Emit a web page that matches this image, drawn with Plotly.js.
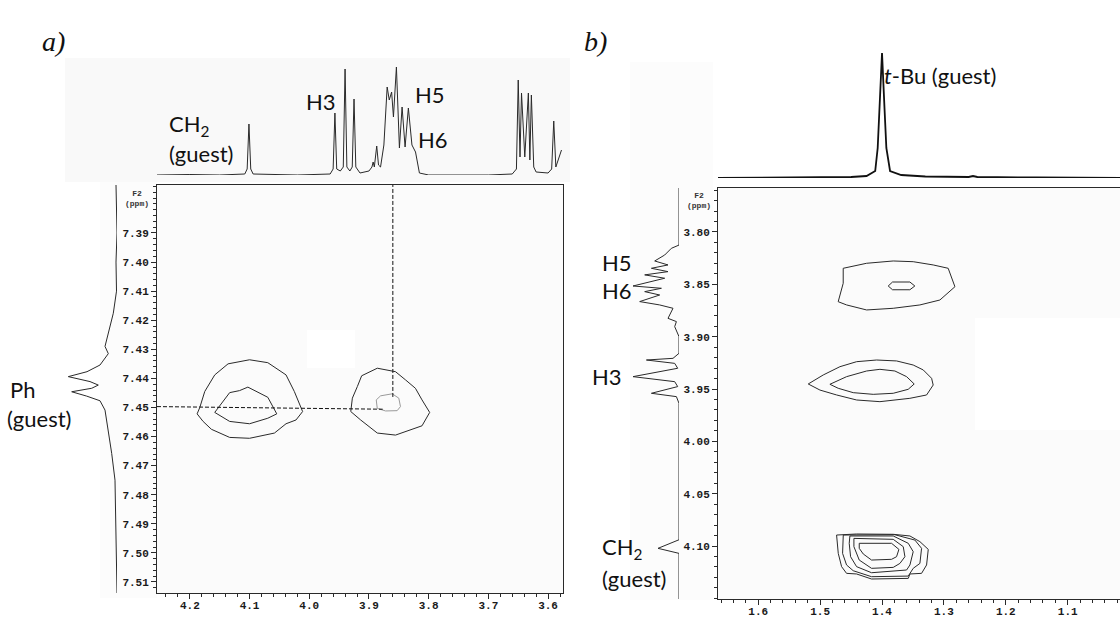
<!DOCTYPE html>
<html><head><meta charset="utf-8">
<script src="https://cdn.plot.ly/plotly-3.0.1.min.js"></script>
<style>html,body{margin:0;padding:0;background:#fff}#chart{width:1120px;height:617px}</style>
</head><body><div id="chart"></div>
<script>
// ---------------- DATA (ppm values) ----------------
// Panel a: 1D projection on top (F1 axis, ppm vs intensity)
const specA_ppm = [4.255,4.20,4.15,4.108,4.104,4.101,4.098,4.094,4.02,3.965,3.960,3.957,3.954,3.948,3.943,3.940,3.937,3.932,3.928,3.925,3.922,3.915,3.900,3.895,3.893,3.891,3.887,3.884,3.8806,3.875,3.8695,3.866,3.862,3.859,3.854,3.849,3.8445,3.8395,3.834,3.828,3.822,3.818,3.8155,3.80,3.70,3.66,3.653,3.650,3.647,3.6445,3.639,3.633,3.6305,3.628,3.624,3.620,3.60,3.594,3.5905,3.587,3.5775];
const specA_int = [0,0.5,0,1,6,51,6,1,0,1,6,62,6,4,8,106,8,4,8,76,8,2,4,8,13,8,29,10,8,30,88,75,83,58,108,27,68,28,67,30,23,8,2,0,0,1,6,95,18,82,18,82,15,80,8,3,2,6,54,8,25];
// Panel a: 1D projection on the left (Ph guest)
const phA_ppm = [7.3735,7.39,7.40,7.41,7.4176,7.4222,7.4267,7.429,7.4315,7.4354,7.4377,7.4394,7.4411,7.4423,7.4434,7.4446,7.4461,7.4477,7.4509,7.4543,7.4589,7.4658,7.475,7.4864,7.50,7.5138];
const phA_int = [1,0,1,0.5,3.7,7,10,12,8.7,17,30,48.7,27,18.7,25.3,45.3,30.3,17,12,10.3,8.7,5.3,2,1.3,0.5,0];
// Panel a: contours (x = F1 ppm, y = F2 ppm)
const contA1o_x = [4.1833,4.175,4.1583,4.136,4.1,4.0694,4.0389,4.025,4.0111,4.0222,4.0389,4.0583,4.1,4.1333,4.1639,4.1778,4.1878,4.1833];
const contA1o_y = [7.45,7.4445,7.4388,7.435,7.4336,7.4346,7.4388,7.4445,7.4514,7.4543,7.4556,7.4588,7.4606,7.4603,7.4575,7.4548,7.4522,7.45];
const contA1i_x = [4.1583,4.1333,4.1167,4.1028,4.0694,4.0544,4.0694,4.1,4.1333,4.1583];
const contA1i_y = [7.4517,7.4449,7.4442,7.4430,7.4465,7.4522,7.4537,7.4556,7.4548,7.4517];
const contA2o_x = [3.9305,3.9278,3.9194,3.9122,3.886,3.8555,3.8389,3.8222,3.8111,3.7983,3.8111,3.8333,3.8555,3.886,3.9,3.9139,3.9305];
const contA2o_y = [7.4514,7.4468,7.4428,7.4391,7.4365,7.4377,7.4405,7.4434,7.4474,7.4517,7.4563,7.458,7.4595,7.4588,7.4566,7.4543,7.4514];
const contA2i_x = [3.8878,3.8805,3.861,3.85,3.8472,3.8528,3.8722,3.8861,3.8878];
const contA2i_y = [7.4474,7.4460,7.4453,7.4468,7.4497,7.4511,7.4512,7.4503,7.4474];
// Panel a: dashed guide lines
const dashAh_x = [4.255,3.877];
const dashAh_y = [7.4497,7.4506];
const dashAv_x = [3.860,3.860];
const dashAv_y = [7.3728,7.4468];
// Panel a ticks
const tickA_x = [4.2,4.1,4.0,3.9,3.8,3.7,3.6];
const tickA_y = [7.39,7.40,7.41,7.42,7.43,7.44,7.45,7.46,7.47,7.48,7.49,7.50,7.51];

// Panel b: 1D projection on top (t-Bu)
const specB_ppm = [1.665,1.55,1.45,1.425,1.411,1.407,1.404,1.400,1.396,1.393,1.387,1.369,1.33,1.26,1.253,1.246,1.15,1.0155];
const specB_int = [0,0.5,1,2,7,30,70,125,70,30,7,3,1.5,1,2,1,0.5,0];
// Panel b: 1D projection on the left
const sideB_ppm = [3.758,3.8125,3.8156,3.822,3.8277,3.8315,3.8347,3.8379,3.841,3.8442,3.8516,3.8538,3.857,3.8602,3.8665,3.8697,3.8729,3.8825,3.8856,3.8904,3.9000,3.9159,3.9207,3.9223,3.9255,3.9302,3.9382,3.943,3.9477,3.9541,3.9573,3.9637,4.094,4.1022,4.107,4.1506];
const sideB_int = [0,0,7.6,14.3,24.3,11,27.6,11,34.3,14.3,46,17.6,34.3,19.3,39.3,19.3,6,11,2.6,4.3,0,0,6,32.6,4.3,1.3,46,4.3,1.3,27.6,2.6,0,0,21,0,0];
// Panel b: contours
const contB1o_x = [1.4627,1.4249,1.3819,1.3496,1.3173,1.2931,1.2822,1.3065,1.3388,1.3819,1.4249,1.4572,1.4708,1.4627,1.4627];
const contB1o_y = [3.8347,3.8299,3.8277,3.8284,3.8315,3.8347,3.8523,3.8650,3.8697,3.8729,3.8745,3.8697,3.8666,3.8490,3.8347];
const contB1i_x = [1.390,1.383,1.355,1.347,1.355,1.383,1.390];
const contB1i_y = [3.8516,3.8478,3.8478,3.8516,3.8552,3.8552,3.8516];
const contB2o_x = [1.5192,1.495,1.468,1.441,1.4087,1.3764,1.3496,1.3334,1.3199,1.3173,1.328,1.355,1.4034,1.441,1.4733,1.5003,1.5192];
const contB2o_y = [3.9452,3.9366,3.9287,3.9239,3.9223,3.9232,3.9271,3.9318,3.9398,3.9462,3.9557,3.9589,3.9621,3.9605,3.9557,3.9510,3.9452];
const contB2i_x = [1.4842,1.4572,1.4249,1.4034,1.3792,1.3603,1.348,1.3577,1.3819,1.4142,1.4465,1.4708,1.4842];
const contB2i_y = [3.9455,3.9382,3.9328,3.9312,3.9328,3.9382,3.9452,3.9503,3.9541,3.9551,3.9535,3.9493,3.9455];
const contB3c1_x = [1.4734,1.4411,1.3819,1.3549,1.3388,1.3253,1.328,1.3361,1.3549,1.3576,1.4169,1.4411,1.4573,1.4653,1.4707,1.4734];
const contB3c1_y = [4.0895,4.0885,4.0888,4.0904,4.0958,4.1032,4.1181,4.1261,4.1267,4.1309,4.1315,4.1267,4.1261,4.1197,4.1070,4.0895];
const contB3c2_x = [1.4626,1.3792,1.3469,1.3361,1.3388,1.3496,1.3576,1.4169,1.4465,1.4573,1.4637,1.4626];
const contB3c2_y = [4.0895,4.0892,4.0943,4.1022,4.1166,4.1213,4.1287,4.1293,4.1236,4.1181,4.1070,4.0895];
const contB3c3_x = [1.4519,1.3819,1.3576,1.3496,1.3549,1.3603,1.4169,1.4411,1.4508,1.453,1.4519];
const contB3c3_y = [4.0904,4.0904,4.0974,4.1054,4.1181,4.1229,4.1255,4.1197,4.1102,4.0974,4.0904];
const contB3c4_x = [1.4454,1.3819,1.3657,1.363,1.3711,1.3819,1.4169,1.4368,1.4454,1.4454];
const contB3c4_y = [4.0927,4.0936,4.1006,4.1102,4.1166,4.1204,4.1213,4.1134,4.1006,4.0927];
const contB3c5_x = [1.4368,1.3846,1.3727,1.3765,1.3846,1.4169,1.4303,1.4368,1.4368];
const contB3c5_y = [4.0974,4.0974,4.1032,4.1102,4.1127,4.1134,4.1076,4.1022,4.0974];
// Panel b ticks
const tickB_x = [1.6,1.5,1.4,1.3,1.2,1.1];
const tickB_y = [3.80,3.85,3.90,3.95,4.00,4.05,4.10];

// ---------------- FIGURE ----------------
const W = 1120, H = 617;
const px = v => v / W, py = v => 1 - v / H;
const INK = '#2a2a2a';

function ln(xa, ya, x, y, extra) {
  return Object.assign({type:'scatter', mode:'lines', x:x, y:y, xaxis:xa, yaxis:ya,
    line:{color:INK, width:1}, hoverinfo:'skip', showlegend:false}, extra || {});
}

const traces = [
  ln('x2','y2', specA_ppm, specA_int),
  ln('x3','y3', phA_int, phA_ppm),
  ln('x','y', contA1o_x, contA1o_y),
  ln('x','y', contA1i_x, contA1i_y),
  ln('x','y', contA2o_x, contA2o_y),
  ln('x','y', contA2i_x, contA2i_y, {line:{color:'#9a9a9a', width:1}}),
  ln('x','y', dashAh_x, dashAh_y, {line:{color:'#111', width:1, dash:'4px,2px'}}),
  ln('x','y', dashAv_x, dashAv_y, {line:{color:'#111', width:1, dash:'4px,2px'}, cliponaxis:false}),
  ln('x5','y5', specB_ppm, specB_int, {line:{color:'#111', width:1.8}}),
  ln('x6','y6', sideB_int, sideB_ppm),
  ln('x4','y4', contB1o_x, contB1o_y),
  ln('x4','y4', contB1i_x, contB1i_y),
  ln('x4','y4', contB2o_x, contB2o_y),
  ln('x4','y4', contB2i_x, contB2i_y),
  ln('x4','y4', contB3c1_x, contB3c1_y),
  ln('x4','y4', contB3c2_x, contB3c2_y),
  ln('x4','y4', contB3c3_x, contB3c3_y),
  ln('x4','y4', contB3c4_x, contB3c4_y),
  ln('x4','y4', contB3c5_x, contB3c5_y)
];

const tickFont = {family:'"Liberation Mono", "DejaVu Sans Mono", monospace', size:11, color:'#1a1a1a', weight:700};
function mainAxis(o) {
  return Object.assign({showgrid:false, zeroline:false, showline:true, linecolor:INK, linewidth:1,
    ticks:'outside', ticklen:5, tickcolor:INK, tickwidth:1, tickfont:tickFont, tickmode:'array',
    fixedrange:true}, o);
}
const hidden = o => Object.assign({visible:false, showgrid:false, zeroline:false, fixedrange:true}, o);

const layout = {
  width:W, height:H, margin:{l:0,r:0,t:0,b:0},
  paper_bgcolor:'#ffffff', plot_bgcolor:'rgba(0,0,0,0)', showlegend:false,
  xaxis: mainAxis({domain:[px(157), px(563)], range:[4.255,3.575], anchor:'y', mirror:true,
    tickvals:tickA_x, tickformat:'.1f', ticklabelstandoff:-3,
    minor:{tickmode:'linear', tick0:0, dtick:0.02, ticks:'outside', ticklen:3, tickcolor:INK, showgrid:false}}),
  yaxis: mainAxis({domain:[py(593), py(185)], range:[7.5138,7.3735], anchor:'x', mirror:true,
    tickvals:tickA_y, tickformat:'.2f', ticklabelstandoff:0,
    minor:{tickmode:'linear', tick0:0, dtick:0.002, ticks:'outside', ticklen:3, tickcolor:INK, showgrid:false}}),
  xaxis2: hidden({domain:[px(157), px(563)], range:[4.255,3.575], anchor:'y2'}),
  yaxis2: hidden({domain:[py(175), py(60)], range:[0,115], anchor:'x2'}),
  xaxis3: hidden({domain:[px(57), px(117)], range:[60,0], anchor:'y3'}),
  yaxis3: hidden({domain:[py(593), py(185)], range:[7.5138,7.3735], anchor:'x3'}),
  xaxis4: mainAxis({domain:[px(718), 1], range:[1.665,1.0155], anchor:'y4', mirror:true,
    tickvals:tickB_x, tickformat:'.1f', ticklabelstandoff:-3,
    minor:{tickmode:'linear', tick0:0, dtick:0.02, ticks:'outside', ticklen:3, tickcolor:INK, showgrid:false}}),
  yaxis4: mainAxis({domain:[py(599), py(188)], range:[4.1506,3.758], anchor:'x4', mirror:false,
    tickvals:tickB_y, tickformat:'.2f', ticklabelstandoff:0,
    minor:{tickmode:'linear', tick0:0, dtick:0.01, ticks:'outside', ticklen:3, tickcolor:INK, showgrid:false}}),
  xaxis5: hidden({domain:[px(718), 1], range:[1.665,1.0155], anchor:'y5'}),
  yaxis5: hidden({domain:[py(178), py(48)], range:[0,130], anchor:'x5'}),
  xaxis6: hidden({domain:[px(620), px(679)], range:[59,0], anchor:'y6'}),
  yaxis6: hidden({domain:[py(599), py(188)], range:[4.1506,3.758], anchor:'x6'}),
  shapes: [
    // very faint scanned-paper backgrounds
    {type:'rect', xref:'paper', yref:'paper', x0:px(65), x1:px(570), y0:py(182), y1:py(58), fillcolor:'#f9f9f9', line:{width:0}, layer:'below'},
    {type:'rect', xref:'paper', yref:'paper', x0:px(100), x1:px(157), y0:py(598), y1:py(182), fillcolor:'#fcfcfc', line:{width:0}, layer:'below'},
    {type:'rect', xref:'paper', yref:'paper', x0:px(157), x1:px(563), y0:py(593), y1:py(185), fillcolor:'#fbfbfb', line:{width:0}, layer:'below'},
    {type:'rect', xref:'paper', yref:'paper', x0:px(307), x1:px(355), y0:py(368), y1:py(330), fillcolor:'#ffffff', line:{width:0}, layer:'below'},
    {type:'rect', xref:'paper', yref:'paper', x0:px(630), x1:px(713), y0:py(600), y1:py(62), fillcolor:'#fcfcfc', line:{width:0}, layer:'below'},
    {type:'rect', xref:'paper', yref:'paper', x0:px(718), x1:1, y0:py(599), y1:py(188), fillcolor:'#fbfbfb', line:{width:0}, layer:'below'},
    {type:'rect', xref:'paper', yref:'paper', x0:px(975), x1:1, y0:py(430), y1:py(318), fillcolor:'#ffffff', line:{width:0}, layer:'below'}
  ],
  annotations: []
};

const sans = {family:'Lato, "Open Sans", "Liberation Sans", sans-serif', size:22, color:'#111'};
function ann(text, x, y, font, xanchor) {
  layout.annotations.push({text:text, xref:'paper', yref:'paper', x:px(x), y:py(y),
    xanchor:xanchor || 'left', yanchor:'middle', showarrow:false, font:font || sans});
}
const serif = {family:'"Liberation Serif", "DejaVu Serif", serif', size:28, color:'#111'};
ann('<i>a)</i>', 40, 42, serif);
ann('<i>b)</i>', 582, 42, serif);
ann('CH<sub>2</sub>', 167, 125);
ann('(guest)', 167, 153);
ann('H3', 304, 102);
ann('H5', 413, 95);
ann('H6', 416, 139);
ann('Ph', 8, 389);
ann('(guest)', 5, 418);
ann('<i>t</i>-Bu (guest)', 882, 75);
ann('H5', 600, 263);
ann('H6', 600, 290);
ann('H3', 590, 376);
ann('CH<sub>2</sub>', 600, 548);
ann('(guest)', 600, 578);
const small = {family:'"Liberation Mono", monospace', size:8, color:'#333', weight:700};
ann('F2<br>(ppm)', 123, 198, small);
ann('F2<br>(ppm)', 685, 200, small);

Plotly.newPlot('chart', traces, layout, {staticPlot:true, displayModeBar:false});
</script></body></html>
